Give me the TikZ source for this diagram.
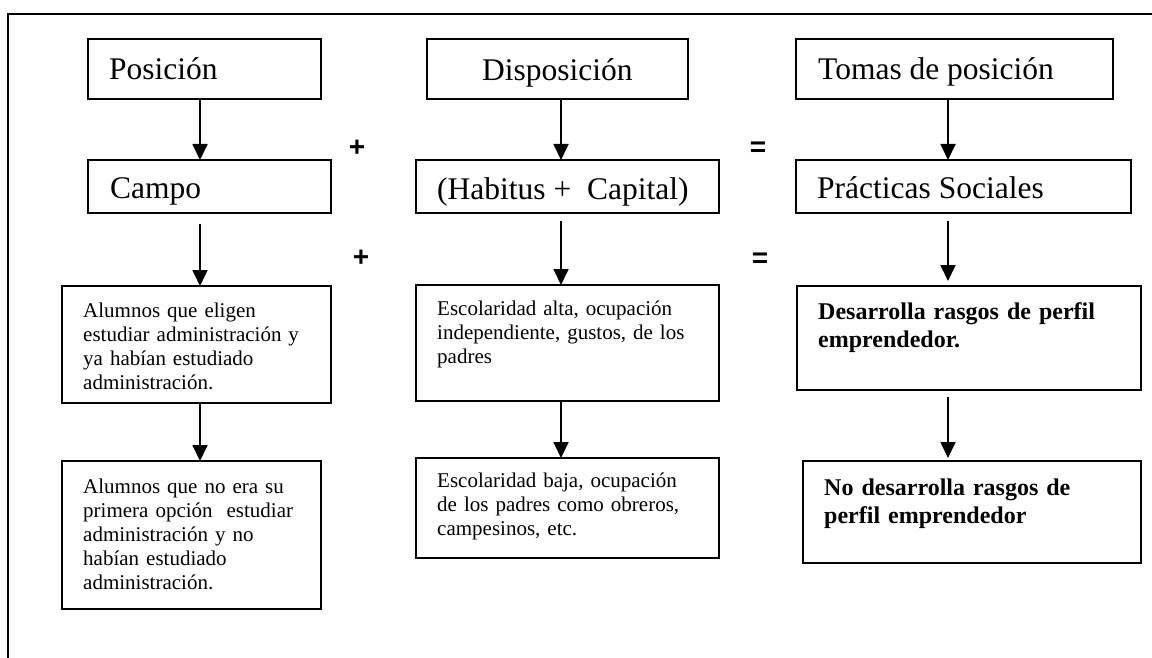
\documentclass[tikz,border=0pt]{standalone}
\usepackage{fontspec}
\setmainfont{Liberation Serif}
\newfontfamily\signfont{Liberation Sans}
\usetikzlibrary{arrows.meta}
\begin{document}
\begin{tikzpicture}[x=1pt,y=-1pt,
  box/.style={draw, line width=1.2pt, inner sep=0pt, outer sep=0pt, anchor=north west},
  bigtxt/.style={anchor=base west, inner sep=0pt, font=\fontsize{31.5}{38}\selectfont},
  smalltxt/.style={anchor=base west, inner sep=0pt, text width=320pt, align=left, font=\fontsize{21}{24}\selectfont},
  boldtxt/.style={anchor=base west, inner sep=0pt, text width=330pt, align=left, font=\fontsize{24}{28.6}\selectfont\bfseries},
  sign/.style={anchor=base, inner sep=0pt, font=\signfont\bfseries\fontsize{28}{30}\selectfont},
  arr/.style={draw, line width=1.8pt, -{Triangle[width=15pt,length=16pt]}}
]
\useasboundingbox (0,0) rectangle (1152,658);
% frame
\draw[line width=2pt] (8,658) -- (8,14) -- (1152,14);

% column 1
\node[box, minimum width=233pt, minimum height=60pt] (p1) at (88,39) {};
\node[box, minimum width=243pt, minimum height=53pt] (p2) at (88,160) {};
\node[box, minimum width=269pt, minimum height=117pt] (p3) at (62,286) {};
\node[box, minimum width=259pt, minimum height=148pt] (p4) at (62,461) {};
\node[bigtxt] (p1t) at (109,80) {Posición};
\node[bigtxt] (p2t) at (110,199) {Campo};
\node[smalltxt] (p3t) at (83,317) {Alumnos que eligen\\estudiar administración y\\ya habían estudiado\\administración.};
\node[smalltxt] (p4t) at (83,493) {Alumnos que no era su\\primera opción\ \ estudiar\\administración y no\\habían estudiado\\administración.};

% column 2
\node[box, minimum width=261pt, minimum height=60pt] (d1) at (427,39) {};
\node[box, minimum width=303pt, minimum height=53pt] (d2) at (416,160) {};
\node[box, minimum width=303pt, minimum height=116pt] (d3) at (416,285) {};
\node[box, minimum width=303pt, minimum height=100pt] (d4) at (416,458) {};
\node[bigtxt] (d1t) at (482,81) {Disposición};
\node[bigtxt] (d2t) at (437,200) {(Habitus +\ \ Capital)};
\node[smalltxt] (d3t) at (437,315) {Escolaridad alta, ocupación\\independiente, gustos, de los\\padres};
\node[smalltxt] (d4t) at (437,487) {Escolaridad baja, ocupación\\de los padres como obreros,\\campesinos, etc.};

% column 3
\node[box, minimum width=317pt, minimum height=60pt] (t1) at (796,39) {};
\node[box, minimum width=335pt, minimum height=53pt] (t2) at (796,160) {};
\node[box, minimum width=344pt, minimum height=104pt] (t3) at (797,286) {};
\node[box, minimum width=338pt, minimum height=102pt] (t4) at (803,461) {};
\node[bigtxt] (t1t) at (818,80) {Tomas de posición};
\node[bigtxt] (t2t) at (817,199) {Prácticas Sociales};
\node[boldtxt] (t3t) at (818,319) {Desarrolla rasgos de perfil\\emprendedor.};
\node[boldtxt] (t4t) at (824,495) {No desarrolla rasgos de\\perfil emprendedor};

% signs
\node[sign] (plus1) at (357,157) {+};
\node[sign] (plus2) at (361,266) {+};
\node[sign] (eq1) at (758,157) {=};
\node[sign] (eq2) at (760,267) {=};

% arrow columns
\coordinate (ca) at (200,0);
\coordinate (cb) at (561,0);
\coordinate (cc) at (948,0);

\draw[arr] (p1.south -| ca) -- (p2.north -| ca);
\draw[arr, shorten <=11pt] (p2.south -| ca) -- (p3.north -| ca);
\draw[arr] (p3.south -| ca) -- (p4.north -| ca);
\draw[arr] (d1.south -| cb) -- (d2.north -| cb);
\draw[arr, shorten <=8pt] (d2.south -| cb) -- (d3.north -| cb);
\draw[arr] (d3.south -| cb) -- (d4.north -| cb);
\draw[arr] (t1.south -| cc) -- (t2.north -| cc);
\draw[arr, shorten <=8pt, shorten >=5pt] (t2.south -| cc) -- (t3.north -| cc);
\draw[arr, shorten <=7pt, shorten >=3pt] (t3.south -| cc) -- (t4.north -| cc);
\end{tikzpicture}
\end{document}
